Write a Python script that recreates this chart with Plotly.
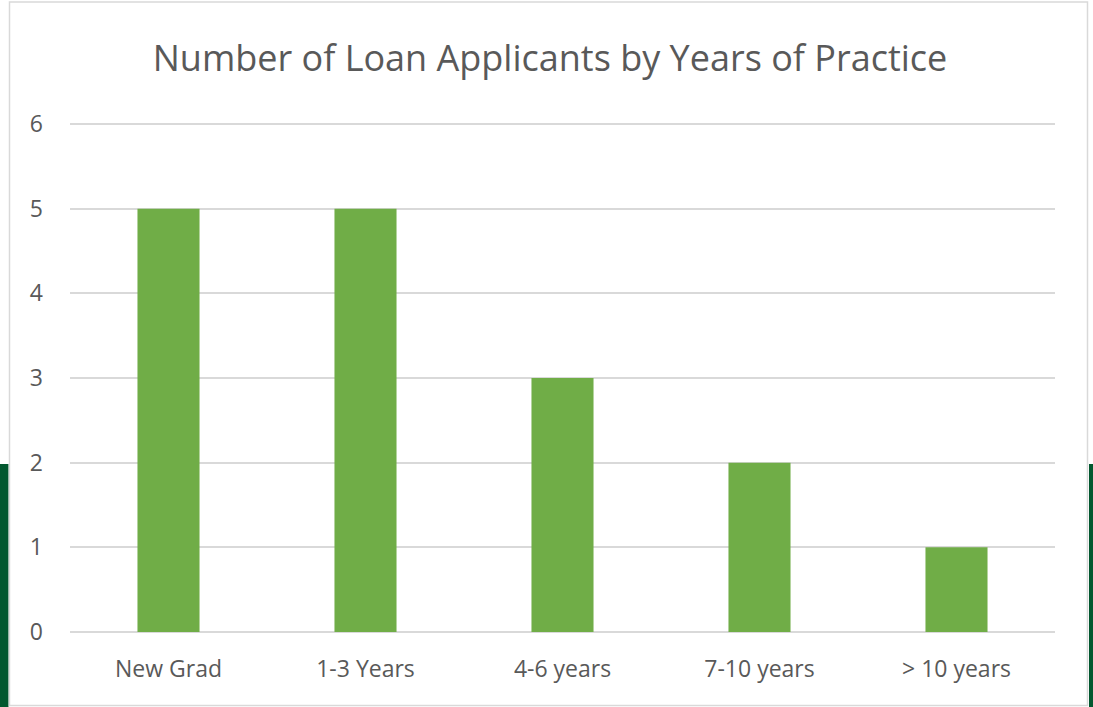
import plotly.graph_objects as go

categories = ["New Grad", "1-3 Years", "4-6 years", "7-10 years", "> 10 years"]
applicants = [5, 5, 3, 2, 1]
y_ticks = [0, 1, 2, 3, 4, 5, 6]

W, H = 1093, 707
L, R, T, B = 70, 38, 118, 75
pw, ph = W - L - R, H - T - B
YMAX = 6 * (632 - T) / (632 - 124)

def px(x):
    return (x - L) / pw

def py(y):
    return (H - B - y) / ph

fig = go.Figure()
fig.add_trace(go.Bar(x=categories, y=applicants, marker_color="#70AD47",
                     marker_line_width=0, hoverinfo="x+y"))

shapes = [
    dict(type="rect", xref="paper", yref="paper", x0=px(0), x1=px(8.5), y0=py(464), y1=py(707),
         fillcolor="#02582F", line_width=0, layer="below"),
    dict(type="rect", xref="paper", yref="paper", x0=px(1089), x1=px(1093), y0=py(464), y1=py(707),
         fillcolor="#02582F", line_width=0, layer="below"),
    dict(type="rect", xref="paper", yref="paper", x0=px(9.5), x1=px(1087.5), y0=py(2), y1=py(705.5),
         fillcolor="rgba(0,0,0,0)", line=dict(color="#D9D9D9", width=1.5), layer="below"),
]

fig.update_layout(
    width=W, height=H,
    margin=dict(l=L, r=R, t=T, b=B),
    paper_bgcolor="white", plot_bgcolor="white",
    bargap=0.685,
    showlegend=False,
    shapes=shapes,
    title=dict(text="Number of Loan Applicants by Years of Practice",
               x=550 / W, xref="container", xanchor="center",
               y=1 - 58 / H, yref="container", yanchor="middle",
               font=dict(family="Open Sans", size=36, color="#595959")),
    font=dict(family="Open Sans", color="#595959"),
    xaxis=dict(showgrid=False, showline=False, zeroline=False, ticks="",
               tickfont=dict(size=23, color="#595959"), ticklabelstandoff=21),
    yaxis=dict(range=[0, YMAX], tickvals=y_ticks, showgrid=True, gridcolor="#D9D9D9", gridwidth=2,
               zeroline=True, zerolinecolor="#D9D9D9", zerolinewidth=2, showline=False, ticks="",
               tickfont=dict(size=23, color="#595959"), ticklabelstandoff=26),
)

fig.write_html("out.html", config={"displayModeBar": False},
               post_script="document.body.style.margin='0';document.body.style.padding='0';")
